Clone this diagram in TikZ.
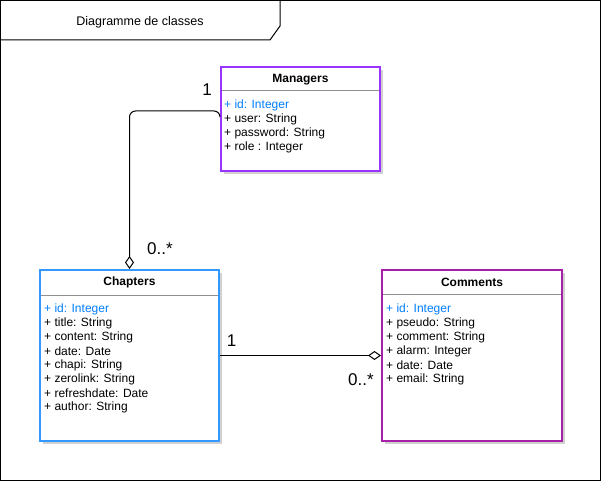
\documentclass[tikz,border=0pt]{standalone}
\usepackage{fontspec}
\setmainfont{Liberation Sans}
\usetikzlibrary{arrows.meta}
\definecolor{mgrcol}{RGB}{153,51,255}
\definecolor{chapcol}{RGB}{51,153,255}
\definecolor{comcol}{RGB}{168,32,168}
\definecolor{idcol}{RGB}{0,127,255}
\definecolor{sepcol}{RGB}{144,144,144}
\tikzset{
  classbox/.style={draw, line width=2pt, fill=white, inner sep=0pt},
  shadowbox/.style={fill=black!18, draw=none, inner sep=0pt},
  classtitle/.style={font=\fontsize{12}{14}\selectfont\bfseries, inner sep=0pt},
  attr/.style={font=\fontsize{12}{14}\selectfont, anchor=west, inner sep=0pt},
  idattr/.style={attr, text=idcol},
  mult/.style={font=\fontsize{17}{20}\selectfont, inner sep=0pt},
  assoc/.style={draw, line width=1pt, -{Diamond[open, length=13pt, width=9pt, line width=1pt]}},
  sep/.style={draw=sepcol, line width=1pt},
}
\begin{document}
\begin{tikzpicture}[x=1pt,y=-1pt]
\useasboundingbox (0,0) rectangle (601,481);
% frame
\draw[line width=1pt] (0.5,0.5) rectangle (600.5,480.5);
\coordinate (t1) at (0.5,0.5);
\coordinate (t2) at (280,0.5);
\coordinate (t3) at (280,26);
\coordinate (t4) at (270,40);
\coordinate (t5) at (0.5,40);
\draw[line width=1pt] (t2) -- (t3) -- (t4) -- (t5);
\node[font=\fontsize{12.5}{14}\selectfont, inner sep=0pt] (title) at (140,22) {Diagramme de classes};

% shadows
\node[shadowbox, minimum width=159pt, minimum height=104pt] (mgrsh) at (303.5,122) {};
\node[shadowbox, minimum width=179pt, minimum height=171pt] (chapsh) at (132.5,358.5) {};
\node[shadowbox, minimum width=180pt, minimum height=171pt] (comsh) at (475,358.5) {};

% Managers
\node[classbox, draw=mgrcol, minimum width=159pt, minimum height=104pt] (mgr) at (300.5,119) {};
\draw[sep] (222,91) -- (379,91);
\node[classtitle] (mgrt) at (300.5,79.5) {Managers};
\node[idattr] (m1) at (224,105) {+ id: Integer};
\node[attr] (m2) at (224,119) {+ user: String};
\node[attr] (m3) at (224,133) {+ password: String};
\node[attr] (m4) at (224,147) {+ role : Integer};

% Chapters
\node[classbox, draw=chapcol, minimum width=179pt, minimum height=171pt] (chap) at (129.5,355.5) {};
\draw[sep] (41,295) -- (218,295);
\node[classtitle] (chapt) at (129.5,282.5) {Chapters};
\node[idattr] (c1) at (44,309) {+ id: Integer};
\node[attr] (c2) at (44,323) {+ title: String};
\node[attr] (c3) at (44,337) {+ content: String};
\node[attr] (c4) at (44,351) {+ date: Date};
\node[attr] (c5) at (44,365) {+ chapi: String};
\node[attr] (c6) at (44,379) {+ zerolink: String};
\node[attr] (c7) at (44,393) {+ refreshdate: Date};
\node[attr] (c8) at (44,407) {+ author: String};

% Comments
\node[classbox, draw=comcol, minimum width=180pt, minimum height=171pt] (com) at (472,355.5) {};
\draw[sep] (383,294) -- (561,294);
\node[classtitle] (comt) at (472,282.5) {Comments};
\node[idattr] (k1) at (386,309) {+ id: Integer};
\node[attr] (k2) at (386,323) {+ pseudo: String};
\node[attr] (k3) at (386,337) {+ comment: String};
\node[attr] (k4) at (386,351) {+ alarm: Integer};
\node[attr] (k5) at (386,365) {+ date: Date};
\node[attr] (k6) at (386,379) {+ email: String};

% connectors
\draw[assoc, rounded corners=6pt] ([yshift=2pt]mgr.west) -- ([yshift=8pt]mgr.west) -| (chap.north);
\draw[assoc] (chap.east) -- (com.west);

% multiplicities
\node[mult] (l1) at (207,89.5) {1};
\node[mult] (l2) at (160,248.5) {0..*};
\node[mult] (l3) at (231.5,340.5) {1};
\node[mult] (l4) at (361,379.5) {0..*};
\end{tikzpicture}
\end{document}
